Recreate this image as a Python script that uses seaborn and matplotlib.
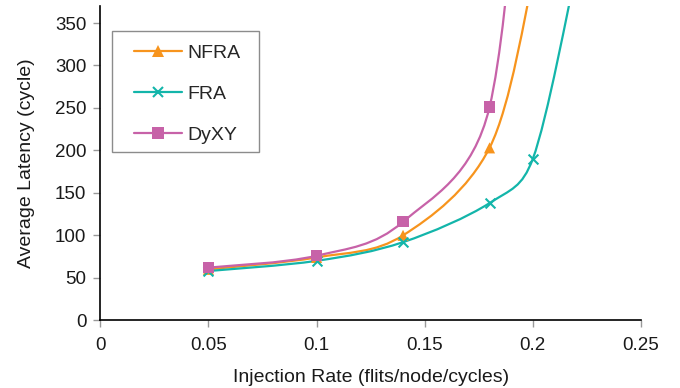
import matplotlib
matplotlib.use('Agg')
import matplotlib.pyplot as plt
import seaborn as sns
import pandas as pd
import numpy as np
from matplotlib.path import Path
from matplotlib.patches import PathPatch, Rectangle
from matplotlib.lines import Line2D

# Data (last point of each series lies above the visible range)
rate_nfra = [0.05, 0.10, 0.14, 0.18, 0.20]
lat_nfra = [60, 74, 100, 203, 400]
rate_fra = [0.05, 0.10, 0.14, 0.18, 0.20, 0.22]
lat_fra = [58, 70, 92, 138, 190, 410]
rate_dyxy = [0.05, 0.10, 0.14, 0.18, 0.20]
lat_dyxy = [62, 76, 116, 251, 760]

series = ['NFRA', 'FRA', 'DyXY']
colors = {'NFRA': '#F7941D', 'FRA': '#13B5AA', 'DyXY': '#C762A8'}
markers = {'NFRA': '^', 'FRA': 'x', 'DyXY': 's'}

df = pd.concat([
    pd.DataFrame({'rate': rate_nfra, 'latency': lat_nfra, 'scheme': 'NFRA'}),
    pd.DataFrame({'rate': rate_fra, 'latency': lat_fra, 'scheme': 'FRA'}),
    pd.DataFrame({'rate': rate_dyxy, 'latency': lat_dyxy, 'scheme': 'DyXY'}),
], ignore_index=True)

sns.set_style('ticks')
plt.rcParams['font.family'] = ['Liberation Sans', 'DejaVu Sans']

fig = plt.figure(figsize=(6.8, 3.88), dpi=100)
ax = fig.add_axes([0.1475, 0.1745, 0.795, 0.81])
ax.set_xlim(0, 0.25)
ax.set_ylim(0, 370)


def smooth_path(x, y):
    # Excel-style smoothed line: Bezier segments, control arms limited to
    # half the segment length (computed in screen space)
    pts = ax.transData.transform(np.column_stack([x, y]).astype(float))
    n = len(pts)
    verts = [pts[0]]
    codes = [Path.MOVETO]
    for i in range(n - 1):
        p0 = pts[max(i - 1, 0)]
        p1 = pts[i]
        p2 = pts[i + 1]
        p3 = pts[min(i + 2, n - 1)]
        d12 = np.linalg.norm(p2 - p1)
        d02 = np.linalg.norm(p2 - p0)
        d13 = np.linalg.norm(p3 - p1)
        f0 = 1 / 6 if d02 / 6 < d12 / 2 else d12 / (2 * d02)
        f1 = 1 / 6 if d13 / 6 < d12 / 2 else d12 / (2 * d13)
        verts += [p1 + f0 * (p2 - p0), p2 - f1 * (p3 - p1), p2]
        codes += [Path.CURVE4] * 3
    verts = ax.transData.inverted().transform(np.array(verts))
    return Path(verts, codes)


for name in series:
    sub = df[df['scheme'] == name]
    patch = PathPatch(smooth_path(sub['rate'], sub['latency']), facecolor='none',
                      edgecolor=colors[name], lw=1.6, zorder=2)
    ax.add_patch(patch)

for name in series:
    sub = df[df['scheme'] == name]
    if markers[name] == 'x':
        sns.scatterplot(data=sub, x='rate', y='latency', color=colors[name], marker='x',
                        s=50, linewidth=1.5, ax=ax, zorder=3, legend=False)
    else:
        sns.scatterplot(data=sub, x='rate', y='latency', color=colors[name],
                        marker=markers[name], s=68 if name == 'DyXY' else 64,
                        edgecolor='none', ax=ax, zorder=3, legend=False)

ax.set_xlim(0, 0.25)
ax.set_ylim(0, 370)
ax.set_xticks([0, 0.05, 0.1, 0.15, 0.2, 0.25])
ax.set_xticklabels(['0', '0.05', '0.1', '0.15', '0.2', '0.25'])
ax.set_yticks(range(0, 351, 50))
ax.tick_params(axis='both', labelsize=13.5, colors='#999999', labelcolor='#1a1a1a',
               length=5, width=1)
ax.tick_params(axis='x', pad=7)
ax.tick_params(axis='y', pad=5)
for side in ['top', 'right']:
    ax.spines[side].set_visible(False)
for side in ['left', 'bottom']:
    ax.spines[side].set_color('black')
    ax.spines[side].set_linewidth(1.2)

ax.set_xlabel('Injection Rate (flits/node/cycles)', fontsize=14, color='#1a1a1a', labelpad=11)
ax.set_ylabel('Average Latency (cycle)', fontsize=14, color='#1a1a1a', labelpad=14)

handles = [Line2D([], [], color=colors[n], lw=1.6, marker=markers[n],
                  markersize=8 if n != 'FRA' else 7.5,
                  markeredgewidth=1.5 if n == 'FRA' else 0)
           for n in series]
ax.legend(handles, series, loc='upper left', bbox_to_anchor=(0.0444, 0.909),
          frameon=False, fontsize=14, handlelength=2.45, labelspacing=1.2,
          borderpad=0.5, handletextpad=0.28, borderaxespad=0)
ax.add_patch(Rectangle((0.0216, 0.5355), 0.272, 0.385, transform=ax.transAxes,
                       facecolor='white', edgecolor='#8c8c8c', lw=1.0, zorder=4))
ax.get_legend().set_zorder(5)

plt.savefig('out.png', dpi=100)
plt.close()
